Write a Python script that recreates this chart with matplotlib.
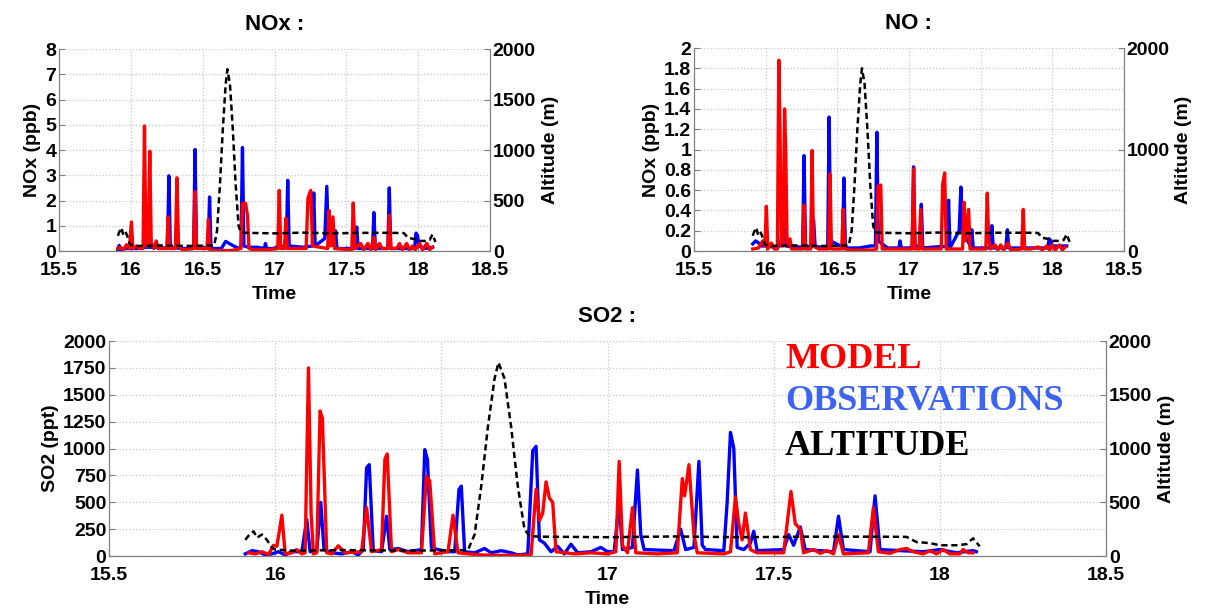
#!/usr/bin/env python3
"""NOx, NO and SO2 along the flight track: model vs observations, with altitude."""

import matplotlib

matplotlib.use("Agg")
import matplotlib.pyplot as plt
import numpy as np

plt.rcParams["font.family"] = ["Liberation Sans", "DejaVu Sans"]
plt.rcParams["font.weight"] = "bold"

# altitude of the aircraft (m), shared by the three panels
altitude = [
    (15.91, 150), (15.92, 190), (15.935, 230), (15.945, 170), (15.96, 200), (15.975, 150),
    (15.99, 80), (16.0, 60), (16.05, 50), (16.2, 55), (16.4, 50), (16.58, 55), (16.6, 200),
    (16.62, 650), (16.64, 1200), (16.66, 1650), (16.672, 1800), (16.69, 1650), (16.71, 1200),
    (16.73, 650), (16.75, 250), (16.765, 185), (16.8, 180), (17.0, 175), (17.2, 182),
    (17.4, 175), (17.6, 180), (17.8, 180), (17.9, 178), (17.93, 130), (17.97, 120),
    (18.0, 100), (18.05, 100), (18.08, 110), (18.1, 165), (18.12, 90),
]

nox_model = [
    (15.91, 0.1), (15.93, 0.15), (15.95, 0.05), (15.97, 0.25), (15.99, 0.1), (16.004, 1.15),
    (16.014, 0.1), (16.04, 0.2), (16.06, 0.1), (16.085, 0.1), (16.095, 4.95), (16.105, 0.2),
    (16.12, 0.2), (16.132, 3.95), (16.142, 0.3), (16.16, 0.1), (16.177, 0.4), (16.19, 0.1),
    (16.25, 0.1), (16.26, 1.35), (16.27, 0.1), (16.31, 0.1), (16.321, 2.9), (16.332, 0.2),
    (16.36, 0.05), (16.437, 0.1), (16.447, 2.35), (16.457, 0.1), (16.53, 0.1), (16.54, 1.25),
    (16.55, 0.05), (16.6, 0.02), (16.7, 0.02), (16.767, 0.1), (16.777, 1.88), (16.799, 1.88),
    (16.812, 1.4), (16.822, 0.1), (16.85, 0.05), (16.95, 0.05), (17.023, 0.1), (17.033, 2.4),
    (17.043, 0.1), (17.069, 0.1), (17.079, 1.3), (17.089, 0.1), (17.22, 0.1), (17.233, 2.1),
    (17.252, 2.4), (17.265, 0.2), (17.37, 0.1), (17.38, 1.6), (17.392, 0.2), (17.407, 1.35),
    (17.418, 0.1), (17.538, 0.05), (17.548, 1.9), (17.56, 0.1), (17.6, 0.3), (17.62, 0.05),
    (17.65, 0.3), (17.67, 0.05), (17.692, 0.55), (17.703, 0.05), (17.73, 0.3), (17.75, 0.1),
    (17.789, 0.1), (17.799, 1.42), (17.81, 0.1), (17.85, 0.1), (17.87, 0.3), (17.89, 0.05),
    (17.92, 0.3), (17.94, 0.05), (17.96, 0.2), (17.98, 0.05), (18.01, 0.3), (18.03, 0.05),
    (18.06, 0.3), (18.08, 0.05), (18.1, 0.15),
]
nox_obs = [
    (15.91, 0.05), (15.919, 0.22), (15.93, 0.05), (15.96, 0.1), (16.0, 0.1), (16.05, 0.1),
    (16.1, 0.15), (16.2, 0.15), (16.255, 0.1), (16.265, 2.98), (16.275, 0.15), (16.35, 0.1),
    (16.437, 0.1), (16.447, 4.02), (16.457, 0.2), (16.538, 0.1), (16.548, 2.14), (16.558, 0.1),
    (16.63, 0.1), (16.66, 0.38), (16.7, 0.25), (16.75, 0.1), (16.767, 0.2), (16.777, 4.1),
    (16.787, 0.2), (16.82, 0.15), (16.88, 0.15), (16.93, 0.1), (16.937, 0.3), (16.945, 0.1),
    (16.99, 0.1), (17.02, 0.15), (17.082, 0.2), (17.092, 2.8), (17.102, 0.2), (17.2, 0.15),
    (17.263, 0.2), (17.273, 2.3), (17.283, 0.2), (17.35, 0.5), (17.364, 2.56), (17.374, 0.6),
    (17.415, 0.2), (17.425, 0.8), (17.435, 0.1), (17.56, 0.1), (17.572, 0.95), (17.582, 0.1),
    (17.682, 0.1), (17.692, 1.52), (17.702, 0.1), (17.789, 0.1), (17.799, 2.5), (17.809, 0.1),
    (17.9, 0.1), (17.975, 0.1), (17.985, 0.71), (17.995, 0.62), (18.005, 0.2), (18.05, 0.1),
    (18.1, 0.15),
]

no_model = [
    (15.91, 0.02), (15.95, 0.03), (15.98, 0.1), (15.995, 0.05), (16.005, 0.44), (16.015, 0.02),
    (16.04, 0.08), (16.06, 0.02), (16.082, 0.02), (16.092, 1.88), (16.1, 1.2), (16.11, 0.05),
    (16.122, 0.05), (16.132, 1.4), (16.14, 1.0), (16.15, 0.05), (16.17, 0.12), (16.18, 0.02),
    (16.258, 0.02), (16.268, 0.45), (16.278, 0.02), (16.314, 0.02), (16.324, 0.99),
    (16.334, 0.05), (16.37, 0.02), (16.439, 0.02), (16.449, 0.76), (16.459, 0.02),
    (16.531, 0.02), (16.541, 0.41), (16.551, 0.02), (16.6, 0.01), (16.75, 0.01), (16.774, 0.02),
    (16.784, 0.64), (16.803, 0.65), (16.813, 0.02), (16.9, 0.02), (17.022, 0.02), (17.032, 0.81),
    (17.042, 0.02), (17.071, 0.02), (17.081, 0.41), (17.091, 0.02), (17.225, 0.02),
    (17.235, 0.66), (17.249, 0.77), (17.26, 0.02), (17.374, 0.02), (17.384, 0.48), (17.394, 0.1),
    (17.416, 0.41), (17.426, 0.02), (17.536, 0.02), (17.546, 0.57), (17.556, 0.1), (17.57, 0.02),
    (17.6, 0.06), (17.62, 0.01), (17.64, 0.06), (17.66, 0.01), (17.69, 0.08), (17.71, 0.01),
    (17.787, 0.02), (17.797, 0.41), (17.807, 0.02), (17.85, 0.02), (17.9, 0.04), (17.93, 0.01),
    (17.96, 0.05), (17.98, 0.01), (18.0, 0.06), (18.02, 0.01), (18.05, 0.06), (18.07, 0.01),
    (18.09, 0.04),
]
no_obs = [
    (15.91, 0.07), (15.93, 0.1), (15.95, 0.08), (15.97, 0.05), (16.0, 0.05), (16.05, 0.04),
    (16.1, 0.05), (16.13, 0.3), (16.14, 0.05), (16.2, 0.04), (16.258, 0.04), (16.268, 0.94),
    (16.278, 0.05), (16.32, 0.04), (16.335, 0.3), (16.345, 0.04), (16.433, 0.04), (16.443, 1.32),
    (16.453, 0.1), (16.536, 0.04), (16.546, 0.72), (16.556, 0.03), (16.65, 0.03), (16.735, 0.05),
    (16.766, 0.05), (16.776, 1.17), (16.786, 0.1), (16.85, 0.03), (16.93, 0.03), (16.938, 0.1),
    (16.946, 0.03), (17.022, 0.03), (17.032, 0.83), (17.042, 0.05), (17.076, 0.05),
    (17.086, 0.46), (17.096, 0.03), (17.266, 0.05), (17.276, 0.5), (17.286, 0.03), (17.35, 0.2),
    (17.362, 0.63), (17.372, 0.2), (17.428, 0.05), (17.438, 0.21), (17.448, 0.03),
    (17.568, 0.03), (17.578, 0.25), (17.588, 0.03), (17.676, 0.03), (17.686, 0.21),
    (17.696, 0.03), (17.85, 0.03), (17.968, 0.03), (17.978, 0.12), (17.99, 0.1), (18.0, 0.05),
    (18.1, 0.05),
]

so2_model = [
    (15.92, 30), (15.94, 20), (15.96, 40), (15.98, 15), (15.995, 100), (16.005, 90), (16.02, 380),
    (16.03, 20), (16.05, 30), (16.065, 60), (16.08, 20), (16.09, 30), (16.1, 1750), (16.108, 400),
    (16.115, 20), (16.125, 30), (16.135, 1350), (16.142, 1280), (16.155, 30), (16.17, 20),
    (16.19, 95), (16.21, 30), (16.26, 40), (16.275, 450), (16.29, 40), (16.32, 60), (16.33, 900),
    (16.337, 950), (16.35, 40), (16.37, 60), (16.4, 30), (16.44, 30), (16.455, 740), (16.465, 700),
    (16.48, 20), (16.52, 40), (16.535, 380), (16.55, 30), (16.58, 20), (16.62, 10), (16.7, 5),
    (16.77, 10), (16.785, 620), (16.795, 330), (16.805, 400), (16.815, 690), (16.825, 540),
    (16.835, 500), (16.845, 40), (16.9, 20), (16.95, 30), (17.0, 20), (17.025, 40), (17.035, 880),
    (17.045, 100), (17.06, 30), (17.075, 450), (17.085, 30), (17.15, 20), (17.21, 30),
    (17.225, 720), (17.232, 560), (17.245, 850), (17.26, 200), (17.27, 30), (17.35, 20),
    (17.37, 40), (17.385, 550), (17.395, 300), (17.405, 150), (17.415, 400), (17.43, 60),
    (17.45, 30), (17.53, 30), (17.552, 600), (17.565, 300), (17.58, 250), (17.59, 30),
    (17.62, 60), (17.64, 25), (17.66, 50), (17.68, 20), (17.695, 200), (17.71, 20), (17.785, 30),
    (17.8, 450), (17.815, 40), (17.85, 25), (17.88, 60), (17.9, 70), (17.92, 40), (17.95, 20),
    (17.97, 50), (17.99, 20), (18.01, 60), (18.03, 20), (18.06, 20), (18.07, 60), (18.085, 30),
    (18.1, 30),
]
so2_obs = [
    (15.91, 20), (15.93, 50), (15.95, 40), (15.97, 10), (15.99, 20), (16.01, 40), (16.03, 10),
    (16.05, 40), (16.08, 40), (16.095, 340), (16.105, 40), (16.125, 40), (16.137, 500),
    (16.147, 60), (16.17, 30), (16.2, 20), (16.23, 40), (16.25, 10), (16.265, 60), (16.275, 820),
    (16.283, 850), (16.295, 50), (16.32, 40), (16.335, 370), (16.345, 60), (16.37, 70),
    (16.4, 40), (16.44, 60), (16.45, 990), (16.458, 900), (16.47, 80), (16.49, 60), (16.52, 40),
    (16.54, 40), (16.553, 620), (16.56, 650), (16.57, 40), (16.6, 30), (16.63, 70), (16.65, 30),
    (16.68, 50), (16.71, 30), (16.73, 10), (16.76, 20), (16.775, 980), (16.785, 1020),
    (16.795, 150), (16.81, 120), (16.83, 40), (16.85, 90), (16.87, 20), (16.89, 110),
    (16.91, 30), (16.95, 40), (16.98, 80), (17.0, 40), (17.02, 40), (17.035, 500), (17.045, 60),
    (17.075, 80), (17.09, 800), (17.1, 200), (17.11, 60), (17.2, 50), (17.22, 250), (17.235, 60),
    (17.26, 80), (17.275, 880), (17.285, 100), (17.295, 60), (17.35, 50), (17.36, 500),
    (17.37, 1150), (17.38, 1000), (17.39, 80), (17.41, 60), (17.43, 120), (17.44, 230),
    (17.45, 50), (17.53, 60), (17.545, 200), (17.56, 100), (17.58, 270), (17.595, 60),
    (17.68, 40), (17.695, 370), (17.71, 60), (17.79, 40), (17.805, 560), (17.82, 60), (17.88, 50),
    (17.95, 40), (18.0, 60), (18.05, 30), (18.1, 50), (18.11, 40),
]

x_ticks = [15.5, 16, 16.5, 17, 17.5, 18, 18.5]
GRID = "#c8c8c8"
SPINE = "#7f7f7f"


def fmt(v):
    return f"{v:g}"


def panel(rect, title, model, obs, ylabel, yticks, alt_ticks, fs=14):
    ax = fig.add_axes(rect)
    t, v = np.array(obs).T
    ax.plot(t, v, color="blue", lw=2.4)
    t, v = np.array(model).T
    ax.plot(t, v, color="red", lw=2.4)
    ax.set_xlim(15.5, 18.5)
    ax.set_ylim(yticks[0], yticks[-1])
    ax.set_xticks(x_ticks, [fmt(x) for x in x_ticks])
    ax.set_yticks(yticks, [fmt(round(y, 2)) for y in yticks])
    ax.grid(True, color=GRID, ls=":", lw=0.9)
    ax.set_title(title, fontsize=16, fontweight="bold", pad=14)
    ax.set_xlabel("Time", fontsize=14, fontweight="bold", labelpad=5)
    ax.set_ylabel(ylabel, fontsize=14, fontweight="bold", labelpad=3)

    ax2 = ax.twinx()
    t, v = np.array(altitude).T
    ax2.plot(t, v, color="black", lw=1.8, ls=(0, (2.5, 1.5)))
    ax2.set_ylim(0, 2000)
    ax2.set_yticks(alt_ticks, [fmt(a) for a in alt_ticks])
    ax2.set_ylabel("Altitude (m)", fontsize=14, fontweight="bold", labelpad=4)

    for a in (ax, ax2):
        a.spines["top"].set_visible(False)
        for s in ("left", "right", "bottom"):
            a.spines[s].set_color(SPINE)
        a.tick_params(direction="in", length=4, color=SPINE, labelsize=fs, pad=2)
    ax.tick_params(axis="x", pad=8)
    return ax, ax2


fig = plt.figure(figsize=(12.09, 6.09), dpi=100)

panel([0.0488, 0.5878, 0.3565, 0.3317], "NOx :", nox_model, nox_obs, "NOx (ppb)",
      list(range(0, 9)), [0, 500, 1000, 1500, 2000])
panel([0.574, 0.5878, 0.3557, 0.3333], "NO :", no_model, no_obs, "NOx (ppb)",
      [i * 0.2 for i in range(11)], [0, 1000, 2000])
ax, ax2 = panel([0.0902, 0.087, 0.8246, 0.353], "SO2 :", so2_model, so2_obs, "SO2 (ppt)",
                list(range(0, 2001, 250)), [0, 500, 1000, 1500, 2000])

legend_items = [("MODEL", "red", 0.874), ("OBSERVATIONS", "#3c64f0", 0.679),
                ("ALTITUDE", "black", 0.47)]
for label, color, y in legend_items:
    ax2.text(0.678, y, label, transform=ax2.transAxes, color=color, fontsize=26,
             fontweight="bold", family=["Liberation Serif", "DejaVu Serif"], va="baseline")

fig.savefig("out.png", dpi=100)
